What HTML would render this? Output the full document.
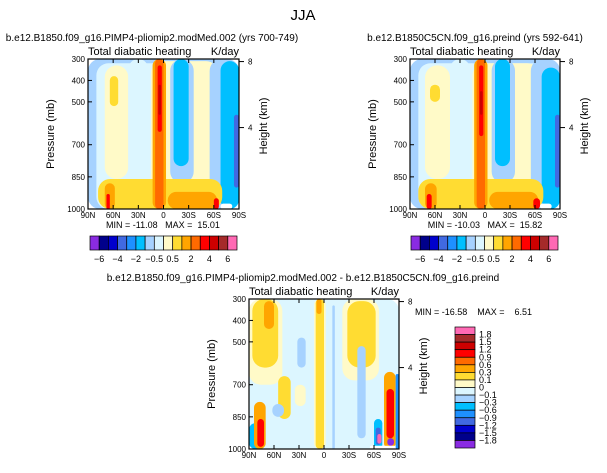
<!DOCTYPE html>
<html><head><meta charset="utf-8"><style>
body{margin:0;background:#fff;width:607px;height:468px;overflow:hidden;font-family:"Liberation Sans",sans-serif}
svg text{font-family:"Liberation Sans",sans-serif;fill:#000}
</style></head><body>
<svg id="s" width="607" height="468" xmlns="http://www.w3.org/2000/svg">
<text x="303" y="20" font-size="15" text-anchor="middle">JJA</text>
</svg>
<script>
const C=["#8a2be2","#00008b","#0000cd","#4169e1","#1e90ff","#00bfff","#a6d2ff","#dcf6ff","#fffac8","#ffdc32","#ffa500","#ff6a00","#ff0000","#cd0000","#a52a2a","#ff69b4"];
const topLevels=["-6","-4","-2","-0.5","0.5","2","4","6"];
const diffLevels=["1.8","1.5","1.2","0.9","0.6","0.3","0.1","0","-0.1","-0.3","-0.6","-0.9","-1.2","-1.5","-1.8"];
const latTicks=[90,60,30,0,-30,-60,-90];
const latLabels=["90N","60N","30N","0","30S","60S","90S"];
const presTicks=[300,400,500,700,850,1000];
const kmTicks=[[8,312],[4,620]];
// fields: [lat1, lat2, pTop, pBot, colorIndex]
const fieldA=[[90,-90,300,1000,6],[80,-78,320,1000,7],[70,42,330,860,8],[15,-65,310,1000,8],[42,18,300,1000,7],[64,54,380,520,9],
[-8,-36,300,880,6],[-12,-30,300,800,5],[-55,-90,300,1000,6],[-68,-90,310,1000,5],[-84,-90,560,900,3],
[78,-70,860,1000,9],[70,58,880,1000,10],[-5,-64,920,1000,10],[68,64,930,1000,12],[-60,-66,950,1000,12],
[13,-3,300,1000,10],[10,0,300,1000,11],[7,2,330,640,12],[6,3,420,560,13],[-68,-82,975,1000,-1]];
const fieldB=[[90,-90,300,1000,6],[80,-78,320,1000,7],[72,42,330,860,8],[15,-65,320,1000,8],[42,18,300,1000,7],[66,54,420,500,9],
[-8,-36,300,880,6],[-12,-30,300,800,5],[-55,-90,300,1000,6],[-68,-90,340,1000,5],[-84,-90,560,900,3],
[80,-70,860,1000,9],[72,58,880,1000,10],[-5,-64,920,1000,10],[70,64,930,1000,12],[-58,-66,950,1000,12],
[13,-3,300,1000,10],[10,0,300,1000,11],[7,2,330,660,12],[6,3,450,560,13],[-66,-80,975,1000,-1]];
const fieldD=[[90,-90,300,1000,7],[90,50,300,700,8],[86,55,300,620,9],[72,60,310,440,10],[12,-2,300,1000,8],[10,0,300,1000,9],[9,3,300,370,10],[-22,-66,300,680,8],[-28,-62,310,620,9],
[55,40,660,860,9],[35,22,700,800,8],[-10,-13,330,1000,6],[-40,-50,520,950,6],[32,22,480,620,6],[62,48,790,850,6],[90,75,880,1000,5],
[84,70,780,1000,10],[80,72,860,990,12],[-60,-70,860,1000,5],[-72,-86,640,1000,10],[-75,-84,720,950,12],[-62,-68,900,980,3],[-64,-69,930,975,15],[-76,-84,950,985,0],[-55,-90,985,1000,-1],[-86,-90,650,1000,4]];
const S=document.getElementById('s');
function el(t,a,p){const e=document.createElementNS('http://www.w3.org/2000/svg',t);for(const k in a)e.setAttribute(k,a[k]);(p||S).appendChild(e);return e;}
function txt(x,y,s,size,anchor,p){const e=el('text',{x:x,y:y,'font-size':size,'text-anchor':anchor||'start'},p);e.textContent=s;return e;}
function plot(x0,y0,w,h,field,name,title,minmax,mmx,mmy,mmAnchor){
 const g=el('g',{});
 
 
 const X=l=>x0+(90-l)/180*w, Y=p=>y0+(p-300)/700*h;
 const cp=el('clipPath',{id:'c'+name},g);el('rect',{x:x0,y:y0,width:w,height:h},cp);
 const fg=el('g',{'clip-path':'url(#c'+name+')'},g);
 field.forEach(f=>{const a=X(f[0]),b=X(f[1]),t=Y(f[2]),u=Y(f[3]);const r=Math.min(12,(b-a)/2,(u-t)/2);
  const e=el('rect',{x:a,y:t,width:b-a,height:u-t,rx:r,ry:r,fill:f[4]<0?'#fff':C[f[4]]},fg);
  
  });
 el('rect',{x:x0,y:y0,width:w,height:h,fill:'none',stroke:'#000','stroke-width':1.2},g);
 latTicks.forEach((l,i)=>{const x=X(l);el('line',{x1:x,x2:x,y1:y0+h,y2:y0+h-4,stroke:'#000'},g);el('line',{x1:x,x2:x,y1:y0,y2:y0+4,stroke:'#000'},g);
  const t=txt(x,y0+h+9,latLabels[i],8,'middle',g);});
 presTicks.forEach(p=>{const y=Y(p);el('line',{x1:x0,x2:x0+4,y1:y,y2:y,stroke:'#000'},g);
  const t=txt(x0-3,y+3,String(p),8,'end',g);});
 kmTicks.forEach(k=>{const y=Y(k[1]);el('line',{x1:x0+w,x2:x0+w+5,y1:y,y2:y,stroke:'#000'},g);txt(x0+w+9,y+3,String(k[0]),8,'start',g);});
 let t=txt(x0-34,y0+h/2,'Pressure (mb)',11,'middle',g);t.setAttribute('transform','rotate(-90 '+(x0-34)+' '+(y0+h/2)+')');
 
 t=txt(x0+w+28,y0+h/2-8,'Height (km)',11,'middle',g);t.setAttribute('transform','rotate(-90 '+(x0+w+28)+' '+(y0+h/2-8)+')');
 
 t=txt(x0,y0-4,'Total diabatic heating',11,'start',g);
 t=txt(x0+w,y0-4,'K/day',11,'end',g);
 t=txt(title[1],title[2],title[0],10,'middle',g);
 t=txt(mmx,mmy,minmax,9,mmAnchor,g);t.setAttribute('xml:space','preserve');t.style.whiteSpace='pre';
}
plot(88,59,151,150,fieldA,'plot-pimp4',['b.e12.B1850.f09_g16.PIMP4-pliomip2.modMed.002 (yrs 700-749)',152,41],'MIN = -11.08   MAX =  15.01',163,228,'middle');
plot(410,59,150,150,fieldB,'plot-preind',['b.e12.B1850C5CN.f09_g16.preind (yrs 592-641)',475,41],'MIN = -10.03   MAX =  15.82',485,228,'middle');
plot(249,299,150,150,fieldD,'plot-difference',['b.e12.B1850.f09_g16.PIMP4-pliomip2.modMed.002 - b.e12.B1850C5CN.f09_g16.preind',303,281],'MIN = -16.58    MAX =    6.51',415,315,'start');
function hbar(x0,y0,w,h,name){const g=el('g',{});
 const bw=w/C.length;C.forEach((c,i)=>{const r=el('rect',{x:x0+i*bw,y:y0,width:bw,height:h,fill:c,stroke:'#000','stroke-width':0.7},g);});
 topLevels.forEach((l,i)=>{const x=x0+(2*i+1)*bw;const t=txt(x,y0+h+12,l.replace('-','−'),9,'middle',g);});}
hbar(90,236,147,14,'colorbar-top-left');
hbar(411,236,147,14,'colorbar-top-right');
(function(){const x0=455,y0=327,w=20,h=121;const g=el('g',{});
 const bh=h/C.length;C.slice().reverse().forEach((c,i)=>{const r=el('rect',{x:x0,y:y0+i*bh,width:w,height:bh,fill:c,stroke:'#000','stroke-width':0.7},g);});
 diffLevels.forEach((l,i)=>{const t=txt(x0+w+4,y0+(i+1)*bh+3,l.replace('-','−'),9,'start',g);});})();
</script>
</body></html>
